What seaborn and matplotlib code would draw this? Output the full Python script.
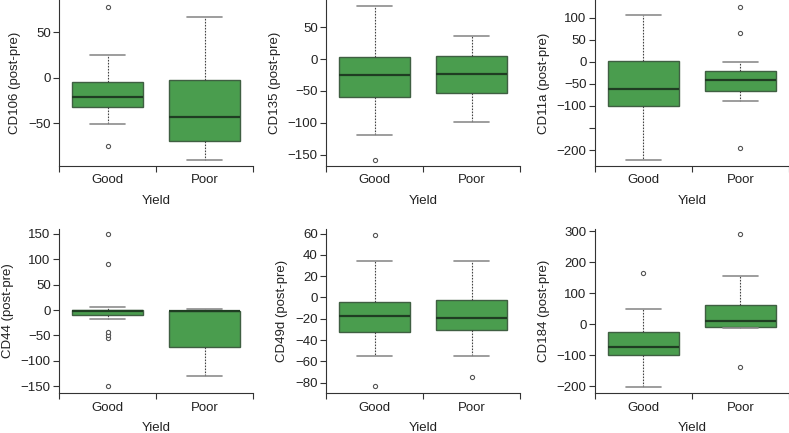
import numpy as np
import pandas as pd
import seaborn as sns
import matplotlib.pyplot as plt

markers = ["CD106", "CD135", "CD11a", "CD44", "CD49d", "CD184"]
groups = ["Good", "Poor"]

# box summaries (whisker ends, quartiles, median, outliers)
good_lo = [-51, -119, -222, -17, -55, -202]
good_q1 = [-32, -59, -99, -10.5, -32, -99]
good_med = [-21, -25, -62, -2, -17, -73]
good_q3 = [-5, 3, 2, 1, -4.4, -25]
good_hi = [25, 83, 106, 5, 34, 48]
good_out = [[78, -75], [-158], [], [149, 91, -43, -49, -55, -150], [59, -83], [165]]

poor_lo = [-90, -99, -89, -130, -55, -13]
poor_q1 = [-69, -54, -67, -73, -30.5, -8.6]
poor_med = [-43, -24, -42, -1.5, -19.4, 11]
poor_q3 = [-2, 5, -21, -1, -2.2, 62]
poor_hi = [67, 36, -1.4, 1.5, 34, 157]
poor_out = [[], [], [125, 65, -195], [], [-74.5], [291, -138]]

ylims = [(-97, 85.5), (-168, 92.7), (-236, 140), (-164, 160), (-90, 64.5), (-223, 308)]
yticks = [[-50, 0, 50], [-150, -100, -50, 0, 50], [-200, -150, -100, -50, 0, 50, 100],
          [-150, -100, -50, 0, 50, 100, 150], [-80, -60, -40, -20, 0, 20, 40, 60],
          [-200, -100, 0, 100, 200, 300]]


def sample(lo, q1, med, q3, hi, outs):
    # values whose quartiles / whiskers reproduce the summary exactly
    low = sorted(o for o in outs if o < q1)
    high = sorted(o for o in outs if o > q3)
    m = max(len(low), len(high)) + 1
    vals = low + [lo] + [q1] * (m - len(low))
    vals += [med] * (2 * m - len(vals) + 1)
    vals += [q3] * (3 * m - len(vals) + 1)
    vals += [q3] * (4 * m - len(high) - len(vals))
    vals += [hi] + high
    return vals


sns.set_style("ticks")
plt.rcParams["font.family"] = ["Liberation Sans", "DejaVu Sans"]

fig = plt.figure(figsize=(7.89, 4.33), dpi=100)
lefts = [0.0748, 0.4132, 0.7541]
bottoms = [0.6166, 0.0917]
heights = [0.3834, 0.380]
col = "#333333"

for i, name in enumerate(markers):
    r, c = divmod(i, 3)
    ax = fig.add_axes([lefts[c], bottoms[r], 0.2459, heights[r]])
    g = sample(good_lo[i], good_q1[i], good_med[i], good_q3[i], good_hi[i], good_out[i])
    p = sample(poor_lo[i], poor_q1[i], poor_med[i], poor_q3[i], poor_hi[i], poor_out[i])
    df = pd.DataFrame({"Yield": ["Good"] * len(g) + ["Poor"] * len(p), "value": g + p})
    sns.boxplot(data=df, x="Yield", y="value", order=groups, ax=ax, color="#4a9d4e",
                saturation=1, width=0.73, whis=1.5,
                boxprops=dict(edgecolor="#3f5f42", linewidth=1.0),
                whiskerprops=dict(color="#444444", linestyle=(0, (1.5, 1.2)), linewidth=0.8),
                capprops=dict(color="#8c8c8c", linewidth=1.2),
                medianprops=dict(color="#1f3d22", linewidth=1.6),
                flierprops=dict(marker="o", markerfacecolor="white", markeredgecolor="#555555",
                                markersize=3.0, markeredgewidth=0.8))
    ax.set_xlim(-0.5, 1.5)
    ax.set_ylim(*ylims[i])
    ax.set_yticks(yticks[i])
    labs = [str(t).replace("-", "\u2212") for t in yticks[i]]
    if name == "CD11a":
        labs[1] = ""
    ax.set_yticklabels(labs)
    ax.set_xticks([0, 1])
    ax.set_xticklabels(groups)
    ax.set_xticks([-0.5, 0.5, 1.5], minor=True)
    ax.tick_params(axis="x", which="major", length=0, pad=6, labelsize=9.5, colors="#222222")
    ax.tick_params(axis="x", which="minor", length=4, width=0.8, color=col)
    ax.tick_params(axis="y", length=4, width=0.8, color=col, labelsize=9.5, labelcolor="#222222", pad=2)
    ax.set_xlabel("Yield", fontsize=9.5, color="#222222", labelpad=6)
    ax.set_ylabel(name + " (post-pre)", fontsize=9.5, color="#222222", labelpad=5)
    sns.despine(ax=ax)
    for s in ["left", "bottom"]:
        ax.spines[s].set_color(col)
        ax.spines[s].set_linewidth(0.8)

fig.savefig("out.png", dpi=100)
